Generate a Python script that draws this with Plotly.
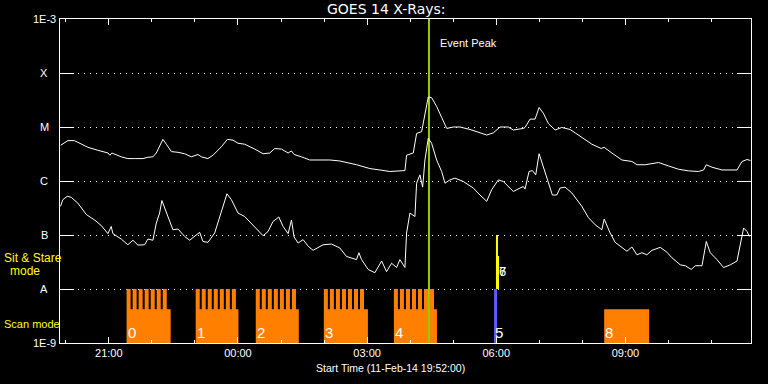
import datetime as dt
import math
import plotly.graph_objects as go

# ---------------- data ----------------
START = dt.datetime(2014, 2, 11, 19, 52, 0)
END_MIN = 963  # minutes after start shown on the axis

# GOES 14 long channel (1-8 A), minutes after start / flux W m^-2
long_min = [1, 11, 20, 30, 39, 53, 67, 69.5, 72.3, 85.4, 94.6, 103.9, 115.5, 122.5, 129.5, 134.2, 138.8, 143.4,
            148.2, 155.2, 164.4, 173.7, 183.1, 192.3, 197, 206.2, 213.2, 224.9, 233.3, 241.1, 248.1, 257.4, 271.4,
            283, 292.3, 299.3, 308.6, 317.9, 322.6, 326.2, 336.5, 348.1, 376, 390, 413.3, 431.8, 445.8, 459.7,
            480.7, 483, 492.3, 497, 504, 508.6, 513.2, 517.9, 524.9, 531.9, 538.9, 548.1, 557.4, 571.4, 585.3,
            594.7, 603.9, 613.2, 624.8, 631.8, 645.7, 648.1, 655.1, 662.1, 667.7, 673.6, 680.6, 690, 699.3, 710.9,
            717.9, 729.5, 741.2, 754.2, 758.4, 769.1, 783.1, 797, 804, 815.6, 834.1, 848.1, 862, 876, 889.9, 896.9,
            900.7, 908.6, 922.6, 943.5, 950.5, 957.5, 962.1]
long_flux = [4.6e-6, 5.6e-6, 5.6e-6, 4.8e-6, 4.2e-6, 3.7e-6, 3.3e-6, 3.0e-6, 3.3e-6, 2.8e-6,
             2.6e-6, 2.6e-6, 2.6e-6, 2.75e-6, 2.8e-6, 3.3e-6, 4.3e-6, 5.9e-6, 4.8e-6, 3.5e-6,
             3.4e-6, 3.2e-6, 2.8e-6, 3.1e-6, 2.8e-6, 2.6e-6, 3.0e-6, 4.3e-6, 5.9e-6, 5.7e-6,
             5.0e-6, 4.8e-6, 3.9e-6, 3.2e-6, 3.3e-6, 4.0e-6, 3.9e-6, 3.3e-6, 3.6e-6, 3.1e-6,
             2.8e-6, 2.45e-6, 2.45e-6, 2.35e-6, 2.0e-6, 1.7e-6, 1.6e-6, 1.5e-6, 1.56e-6, 3.0e-6,
             3.3e-6, 7.6e-6, 8.2e-6, 1.8e-5, 3.6e-5, 3.5e-5, 2.4e-5, 1.5e-5, 9.4e-6, 1.0e-5,
             1.0e-5, 9.0e-6, 7.8e-6, 7.1e-6, 7.8e-6, 1.0e-5, 1.0e-5, 8.8e-6, 9.4e-6, 9.8e-6,
             1.4e-5, 1.4e-5, 2.3e-5, 1.8e-5, 1.16e-5, 8.8e-6, 9.8e-6, 9.0e-6, 7.8e-6, 6.2e-6,
             4.8e-6, 4.0e-6, 4.2e-6, 3.3e-6, 2.45e-6, 2.3e-6, 2.0e-6, 2.0e-6, 2.2e-6, 1.9e-6,
             1.65e-6, 1.54e-6, 1.5e-6, 1.6e-6, 2.0e-6, 1.8e-6, 1.6e-6, 1.6e-6, 2.3e-6, 2.5e-6,
             2.4e-6]

# GOES 14 short channel (0.5-4 A)
short_min = [0.7, 3.9, 10, 15.6, 24.8, 36.6, 48.1, 57.5, 66.7, 71.4, 73.7, 85.4, 94.6, 101.6, 108.6, 117.9,
             122.5, 129.5, 134.2, 138.8, 142, 145.8, 152.8, 157.4, 164.4, 173.7, 180.7, 187.7, 194.6, 199.2,
             206.2, 215.6, 222.6, 227.2, 232.7, 238.9, 248.1, 257.4, 271.4, 283, 289.9, 296.9, 304.9, 310.9,
             317.9, 322.6, 326.2, 331.8, 338.8, 345.8, 352.7, 366.7, 378.4, 390, 399.3, 413.3, 416.5, 420.3,
             429.5, 438.8, 448.2, 455.1, 462.1, 469.1, 473.7, 480.7, 483, 487.7, 494.6, 497, 501.6, 505.4,
             508.6, 513.2, 517.9, 524.9, 531.9, 536.5, 543.5, 550.5, 562, 576, 585.3, 594.7, 601.6, 610.9,
             617.8, 624.8, 631.8, 641.1, 645.7, 648.1, 653.7, 658.3, 663, 667.7, 673.6, 680.6, 686.2, 692.3,
             696.9, 703.9, 713.3, 727.2, 736.4, 745.8, 755.1, 758.4, 766.7, 773.7, 783.1, 790.1, 797, 804,
             811, 817.9, 824.9, 836.5, 845.8, 852.8, 864.4, 871.4, 879.7, 885.3, 894.7, 900.7, 906.2, 915.6,
             924.8, 934.1, 943.5, 948.1, 952.7, 957.5, 960.7]
short_flux = [3.4e-7, 4.5e-7, 5.2e-7, 5.0e-7, 3.9e-7, 2.4e-7, 1.9e-7, 1.5e-7, 1.06e-7, 1.44e-7,
              1.06e-7, 8.4e-8, 6.6e-8, 8.0e-8, 6.5e-8, 6.6e-8, 8.4e-8, 8.0e-8, 1.66e-7, 2.55e-7,
              4.35e-7, 3.15e-7, 1.9e-7, 1.25e-7, 1.29e-7, 9.4e-8, 8.0e-8, 9.4e-8, 1.12e-7, 7.6e-8,
              7.3e-8, 1.09e-7, 2.2e-7, 3.6e-7, 5.8e-7, 4.5e-7, 2.55e-7, 2.2e-7, 1.44e-7, 9.7e-8,
              1.16e-7, 1.78e-7, 2.15e-7, 1.44e-7, 1.06e-7, 1.9e-7, 9.2e-8, 7.1e-8, 8.2e-8, 6.2e-8,
              5.2e-8, 6.6e-8, 6.8e-8, 5.75e-8, 4.0e-8, 3.5e-8, 4.7e-8, 3.5e-8, 2.3e-8, 2.0e-8,
              3.3e-8, 2.1e-8, 3.0e-8, 2.5e-8, 3.5e-8, 2.5e-8, 1.09e-7, 2.55e-7, 2.2e-7, 9.1e-7,
              1.3e-6, 7.7e-7, 2.45e-6, 6.2e-6, 5.0e-6, 2.45e-6, 1.5e-6, 9.1e-7, 1.05e-6, 1.13e-6,
              9.8e-7, 7.4e-7, 5.5e-7, 4.2e-7, 6.9e-7, 1.05e-6, 9.8e-7, 7.9e-7, 6.4e-7, 7.4e-7,
              7.9e-7, 7.1e-7, 1.5e-6, 1.56e-6, 1.3e-6, 3.2e-6, 1.85e-6, 9.1e-7, 5.5e-7, 5.5e-7,
              7.4e-7, 7.7e-7, 6.0e-7, 3.4e-7, 2.1e-7, 1.55e-7, 1.25e-7, 1.97e-7, 1.09e-7, 7.3e-8,
              5.75e-8, 5.0e-8, 6.0e-8, 4.3e-8, 4.7e-8, 4.3e-8, 5.2e-8, 5.9e-8, 4.8e-8, 3.8e-8,
              2.8e-8, 2.7e-8, 2.3e-8, 2.7e-8, 2.7e-8, 7.6e-8, 4.7e-8, 3.5e-8, 2.5e-8, 2.8e-8,
              3.3e-8, 7.1e-8, 1.35e-7, 1.16e-7, 9.4e-8]

# Scan-mode observation blocks (minutes after start)
scan_labels = ["0", "1", "2", "3", "4", "8"]
scan_start = [92.8, 189.1, 272.8, 367.7, 465.3, 758.4]
scan_end = [154.2, 248.7, 332.8, 429.1, 525.3, 821.1]
scan_rasters = [7, 7, 7, 7, 7, 0]
raster_cadence = 8.4   # minutes between rasters
raster_length = 5.6    # minutes per raster

# Sit & stare observations
stare_scan_label = "5"
stare_scan_start, stare_scan_end = 604.9, 609.1
stare_labels = ["6", "7"]
stare_start = [607.6, 610.4]
stare_end = [610.4, 611.8]
stare_top = [1e-7, 4.1e-8]

event_peak_min = 514.2

# flux levels
LEVEL_BASE = 1e-9
LEVEL_SCAN_LOW = 4.2e-9
LEVEL_SCAN_HIGH = 1e-8

ytick_vals = [1e-9, 1e-8, 1e-7, 1e-6, 1e-5, 1e-4, 1e-3]
ytick_text = ["1E-9", "A", "B", "C", "M", "X", "1E-3"]


def t(m):
    return START + dt.timedelta(minutes=m)


# ---------------- figure ----------------
WHITE = "#ffffff"
ORANGE = "#ff8000"
YELLOW = "#ffff00"
BLUE = "#5a5aff"
GREEN = "#99cc00"
FONT = "Liberation Sans"
L, T, PW, PH = 60, 19, 691, 324  # plot area in pixels


def paper_x(px):
    return (px - L) / PW


def paper_y(py):
    return (T + PH - py) / PH


fig = go.Figure()

# orange comb polygons
px, py = [], []
for s, e, n in zip(scan_start, scan_end, scan_rasters):
    xs, ys = [t(s)], [LEVEL_BASE]
    if n:
        for k in range(n):
            a = s + k * raster_cadence
            b = a + raster_length
            if k > 0:
                xs.append(t(a)); ys.append(LEVEL_SCAN_LOW)
            xs += [t(a), t(b), t(b)]
            ys += [LEVEL_SCAN_HIGH, LEVEL_SCAN_HIGH, LEVEL_SCAN_LOW]
        xs += [t(e), t(e)]
        ys += [LEVEL_SCAN_LOW, LEVEL_BASE]
    else:
        xs += [t(s), t(e), t(e)]
        ys += [LEVEL_SCAN_LOW, LEVEL_SCAN_LOW, LEVEL_BASE]
    xs.append(t(s)); ys.append(LEVEL_BASE)
    px += xs + [None]
    py += ys + [None]
fig.add_trace(go.Scatter(x=px, y=py, mode="lines", fill="toself", fillcolor=ORANGE,
                         line=dict(width=0, color=ORANGE), hoverinfo="skip"))

# blue sit&stare marker in scan row
fig.add_trace(go.Scatter(
    x=[t(stare_scan_start), t(stare_scan_start), t(stare_scan_end), t(stare_scan_end), t(stare_scan_start)],
    y=[LEVEL_BASE, LEVEL_SCAN_HIGH, LEVEL_SCAN_HIGH, LEVEL_BASE, LEVEL_BASE],
    mode="lines", fill="toself", fillcolor=BLUE, line=dict(width=0, color=BLUE), hoverinfo="skip"))

# yellow sit&stare bars
yx, yy = [], []
for s, e, top in zip(stare_start, stare_end, stare_top):
    yx += [t(s), t(s), t(e), t(e), t(s), None]
    yy += [LEVEL_SCAN_HIGH, top, top, LEVEL_SCAN_HIGH, LEVEL_SCAN_HIGH, None]
fig.add_trace(go.Scatter(x=yx, y=yy, mode="lines", fill="toself", fillcolor=YELLOW,
                         line=dict(width=0, color=YELLOW), hoverinfo="skip"))

# event peak line
fig.add_trace(go.Scatter(x=[t(event_peak_min), t(event_peak_min)], y=[1e-9, 1e-3], mode="lines",
                         line=dict(color=GREEN, width=2), hoverinfo="skip"))

# flux curves
fig.add_trace(go.Scatter(x=[t(m) for m in long_min], y=long_flux, mode="lines",
                         line=dict(color=WHITE, width=1)))
fig.add_trace(go.Scatter(x=[t(m) for m in short_min], y=short_flux, mode="lines",
                         line=dict(color=WHITE, width=1)))

ann = []
# y labels (centred left of axis)
for v, txt in zip(ytick_vals, ytick_text):
    ann.append(dict(x=paper_x(44), xref="paper", y=math.log10(v), yref="y", text=txt, showarrow=False,
                    xanchor="center", yanchor="middle", font=dict(family=FONT, size=11, color=WHITE)))
# scan labels
for lab, s in zip(scan_labels, scan_start):
    ann.append(dict(x=t(s), y=-8.8, xref="x", yref="y", text=lab, showarrow=False, xanchor="left",
                    yanchor="middle", xshift=-1, font=dict(family=FONT, size=15, color=WHITE)))
ann.append(dict(x=t(stare_scan_start), y=-8.8, xref="x", yref="y", text=stare_scan_label, showarrow=False,
                xanchor="left", yanchor="middle", xshift=-1, font=dict(family=FONT, size=15, color=WHITE)))
for lab in stare_labels:
    ann.append(dict(x=t(stare_start[1]), y=-7.68, xref="x", yref="y", text=lab, showarrow=False,
                    xanchor="left", yanchor="middle", xshift=-1, font=dict(family=FONT, size=13, color=WHITE)))
# event peak text
ann.append(dict(x=t(event_peak_min), y=-3.44, xref="x", yref="y", text="Event Peak", showarrow=False,
                xanchor="left", yanchor="middle", xshift=9, font=dict(family=FONT, size=11, color=WHITE)))
# mode labels
ann.append(dict(x=paper_x(2), y=paper_y(258), xref="paper", yref="paper", text="Sit & Stare",
                showarrow=False, xanchor="left", yanchor="middle", font=dict(family=FONT, size=12, color=YELLOW)))
ann.append(dict(x=paper_x(24.5), y=paper_y(271), xref="paper", yref="paper", text="mode",
                showarrow=False, xanchor="center", yanchor="middle", font=dict(family=FONT, size=12, color=YELLOW)))
ann.append(dict(x=paper_x(2), y=paper_y(323.5), xref="paper", yref="paper", text="Scan mode",
                showarrow=False, xanchor="left", yanchor="middle", font=dict(family=FONT, size=11, color=YELLOW)))
# title and x-axis title
ann.append(dict(x=paper_x(386), y=paper_y(9.5), xref="paper", yref="paper", text="GOES 14 X-Rays:",
                showarrow=False, xanchor="center", yanchor="middle",
                font=dict(family="DejaVu Sans", size=14, color=WHITE)))
ann.append(dict(x=paper_x(390), y=paper_y(368), xref="paper", yref="paper",
                text="Start Time (11-Feb-14 19:52:00)", showarrow=False, xanchor="center", yanchor="middle",
                font=dict(family=FONT, size=10.5, color=WHITE)))

fig.update_layout(
    width=768, height=384,
    margin=dict(l=L, r=768 - L - PW, t=T, b=384 - T - PH),
    paper_bgcolor="black", plot_bgcolor="black",
    showlegend=False,
    hovermode=False,
    annotations=ann,
    xaxis=dict(
        type="date", range=[t(0), t(END_MIN)],
        tick0="2014-02-11 21:00", dtick=3 * 3600000, tickformat="%H:%M",
        ticks="inside", ticklen=6, tickcolor=WHITE, tickwidth=1,
        minor=dict(dtick=3600000, tick0="2014-02-11 21:00", ticks="inside", ticklen=3, tickcolor=WHITE,
                   showgrid=False),
        showline=True, linecolor=WHITE, linewidth=1, mirror="allticks",
        showgrid=False, zeroline=False,
        tickfont=dict(family=FONT, size=11, color=WHITE),
    ),
    yaxis=dict(
        type="log", range=[-9, -3],
        tickvals=ytick_vals, ticktext=ytick_text, showticklabels=False,
        ticks="inside", ticklen=14, tickcolor=WHITE, tickwidth=1,
        showline=True, linecolor=WHITE, linewidth=1, mirror="allticks",
        showgrid=True, gridcolor=WHITE, gridwidth=1, griddash="1px,5px", zeroline=False,
    ),
)

fig.write_html("out.html", config={"displayModeBar": False},
               post_script="document.body.style.margin='0';document.body.style.background='black';")
